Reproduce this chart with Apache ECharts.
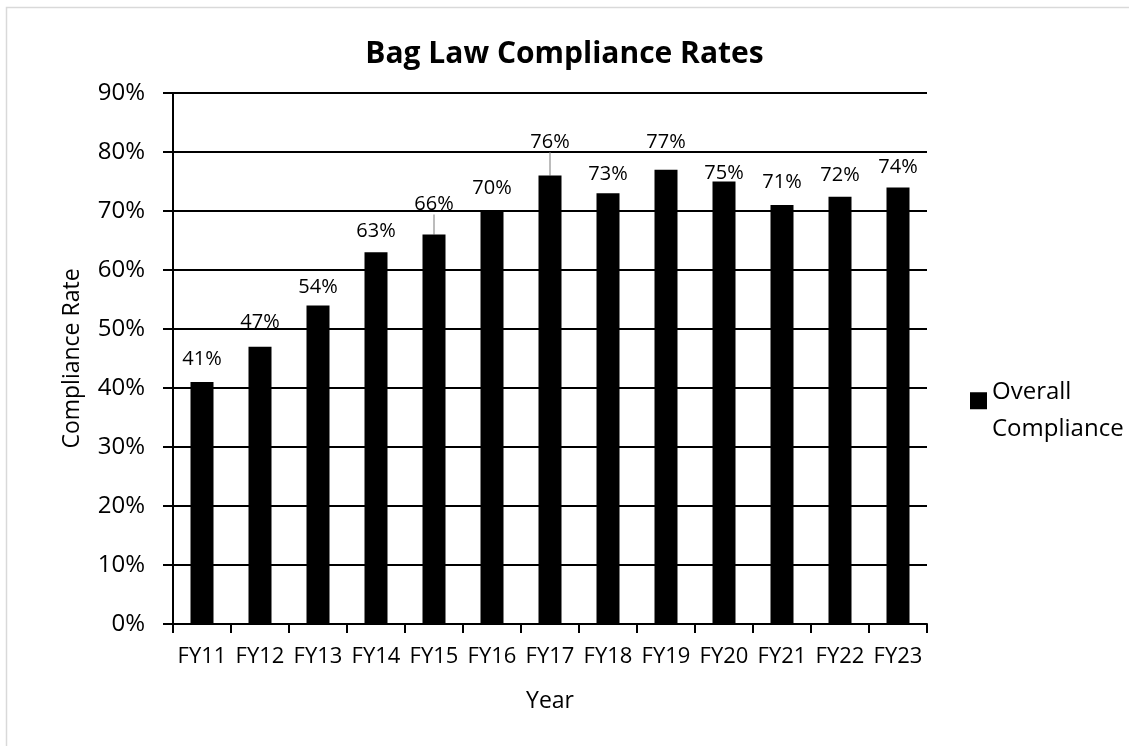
<!DOCTYPE html>
<html><head><meta charset="utf-8">
<script src="https://cdn.jsdelivr.net/npm/echarts@6/dist/echarts.min.js"></script>
<style>html,body{margin:0;padding:0;background:#fff}#c{width:1129px;height:746px}</style>
</head><body><div id="c"></div>
<script>
const categories = ['FY11','FY12','FY13','FY14','FY15','FY16','FY17','FY18','FY19','FY20','FY21','FY22','FY23'];
const compliance = [41, 47, 54, 63, 66, 70, 76, 73, 77, 75, 71, 72.4, 74];
const yTicks = [0,10,20,30,40,50,60,70,80,90];
const leaderIdx = [4, 6];
const seriesName = 'Overall Compliance';
const FONT = '"Open Sans"';
// manual label nudges (px, negative = up), as placed in the original
const labelNudge = {0: -2, 1: -3, 2: 3, 4: -9, 5: -2, 6: -12, 7: 2, 8: -6, 9: 13, 10: -2, 11: -1, 12: 1};

const barData = compliance.map((v, i) => leaderIdx.includes(i)
  ? {value: v, labelLine: {show: true}}
  : {value: v});

const chart = echarts.init(document.getElementById('c'));
chart.setOption({
  animation: false,
  backgroundColor: '#fff',
  textStyle: {fontFamily: FONT, color: '#000'},
  title: {
    text: 'Bag Law Compliance Rates', left: 'center', top: 34,
    textStyle: {fontFamily: FONT, fontWeight: 'bold', fontSize: 30, color: '#000'}
  },
  graphic: [{
    type: 'rect', shape: {x: 6.5, y: 7.5, width: 1300, height: 900},
    style: {fill: null, stroke: '#d9d9d9', lineWidth: 1.5}, silent: true
  }],
  legend: {
    show: true, left: 965, top: 369, orient: 'vertical',
    icon: 'path://M0,0L1,0L1,1L0,1Z M0,2.2L0.001,2.2',
    itemWidth: 17, itemHeight: 38, itemGap: 0,
    formatter: () => 'Overall\nCompliance',
    textStyle: {fontFamily: FONT, fontSize: 24, color: '#000', lineHeight: 37},
    data: [seriesName]
  },
  grid: {left: 173, right: 202, top: 93, bottom: 122, containLabel: false},
  xAxis: {
    type: 'category', data: categories,
    name: 'Year', nameLocation: 'middle', nameGap: 66,
    nameTextStyle: {fontFamily: FONT, fontSize: 23, color: '#000'},
    axisLine: {lineStyle: {color: '#000', width: 2}},
    axisTick: {show: true, length: 9, lineStyle: {color: '#000', width: 2}},
    axisLabel: {fontFamily: FONT, fontSize: 22, color: '#000', margin: 22, interval: 0}
  },
  yAxis: {
    type: 'value', min: 0, max: 90, interval: 10,
    name: 'Compliance Rate', nameLocation: 'middle', nameGap: 89,
    nameTextStyle: {fontFamily: FONT, fontSize: 23, color: '#000'},
    axisLine: {show: true, lineStyle: {color: '#000', width: 2}},
    axisTick: {show: true, length: 10, lineStyle: {color: '#000', width: 2}},
    splitLine: {show: true, lineStyle: {color: '#000', width: 2}},
    axisLabel: {fontFamily: FONT, fontSize: 24, color: '#000', margin: 28,
      formatter: v => yTicks.includes(v) ? v + '%' : ''}
  },
  series: [{
    name: seriesName, type: 'bar', data: barData, barWidth: 23,
    itemStyle: {color: '#000'},
    label: {show: true, position: 'top', distance: 11, fontFamily: FONT, fontSize: 20, color: '#000',
      formatter: p => Math.round(p.value) + '%'},
    labelLine: {show: false, lineStyle: {color: '#a6a6a6', width: 1.5}},
    labelLayout: function (p) {
      return {dy: labelNudge[p.dataIndex] || 0};
    }
  }]
});
</script></body></html>
